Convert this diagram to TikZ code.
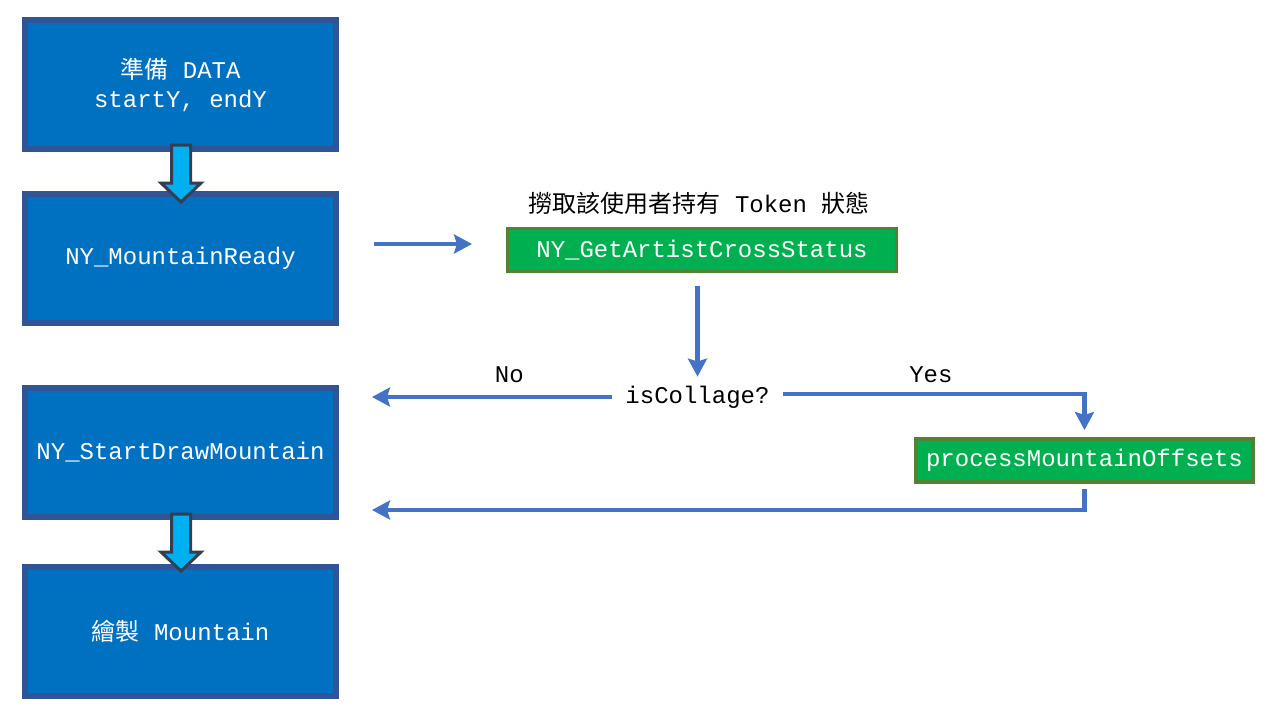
\documentclass[tikz,border=0pt]{standalone}
\usepackage{fontspec}
\setmonofont{Liberation Mono}
\newfontfamily\cjk{Noto Sans CJK TC}
\usepackage{tikz}
\usetikzlibrary{arrows.meta,positioning,calc}
\usepackage{xcolor}
\definecolor{StepBlue}{HTML}{0070C0}
\definecolor{StepEdge}{HTML}{2F5597}
\definecolor{DropCyan}{HTML}{00B0F0}
\definecolor{DropEdge}{HTML}{333F50}
\definecolor{FlowBlue}{HTML}{4472C4}
\definecolor{CallGreen}{HTML}{00B050}
\definecolor{CallEdge}{HTML}{548235}

\begin{document}
\begin{tikzpicture}[x=0.5pt, y=-0.5pt,
    box/.style={draw=StepEdge, fill=StepBlue, line width=3pt, minimum width=155.5pt, minimum height=64.5pt, inner sep=0pt, text=white, align=center, font=\ttfamily\fontsize{12}{14.5}\selectfont},
    call/.style={draw=CallEdge, fill=CallGreen, line width=1.5pt, minimum height=21.5pt, inner sep=0pt, text=white, font=\ttfamily\fontsize{12}{14.5}\selectfont},
    lbl/.style={inner sep=0pt, text=black, font=\ttfamily\fontsize{12}{14.5}\selectfont},
    arr/.style={-{Stealth[length=9pt, width=9.5pt, inset=1.5pt]}, draw=FlowBlue, line width=2.25pt},
    blockdown/.pic={\draw[fill=DropCyan, draw=DropEdge, line width=1.5pt] (-9.5,0) -- (9.5,0) -- (9.5,38) -- (20,38) -- (0,57) -- (-20,38) -- (-9.5,38) -- cycle;}
  ]
    \useasboundingbox (0,0) rectangle (1280,720);

    % Main steps
    \node[box] (prep) at (180.5,84.5) {{\cjk 準備} DATA\\startY, endY};
    \node[box] (ready) at (180.5,258.5) {NY\_MountainReady};
    \node[box] (startdraw) at (180.5,452.5) {NY\_StartDrawMountain};
    \node[box] (drawmtn) at (180.5,631.5) {{\cjk 繪製} Mountain};
    \pic at (181,145) {blockdown};
    \pic at (181,514) {blockdown};

    % Status check
    \node[lbl] (tokenlbl) at (699,203) {{\cjk 撈取該使用者持有} Token {\cjk 狀態}};
    \node[call, minimum width=194.5pt] (getstatus) at (702,250) {NY\_GetArtistCrossStatus};
    \node[lbl, minimum width=85.5pt, minimum height=20pt] (decide) at (697.5,397) {isCollage?};
    \node[call, line width=2pt, minimum width=168.5pt] (offsets) at (1084.5,460.5) {processMountainOffsets};

    \draw[arr, shorten <=17.5pt, shorten >=17pt] ([yshift=7.25pt]ready.east) -- ([yshift=7.25pt]ready.east -| getstatus.west);
    \draw[arr, shorten <=6.25pt] (getstatus.south -| decide.north) -- (decide.north);
    \draw[arr, shorten >=16.5pt] (decide.west) -- node[lbl, pos=0.375, above=6pt] {No} (decide.west -| startdraw.east);
    \draw[arr, shorten >=3.5pt] ([yshift=1.5pt]decide.east) -| node[lbl, pos=0.245, above=4.5pt] {Yes} (offsets.north);
    \draw[arr, shorten <=2.5pt, shorten >=16.5pt] (offsets.south) |- ([yshift=-28.75pt]startdraw.east);
  \end{tikzpicture}
\end{document}
